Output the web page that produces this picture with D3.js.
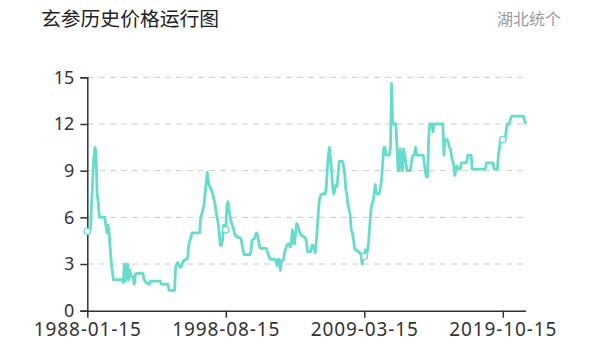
<!DOCTYPE html>
<html>
<head>
<meta charset="utf-8">
<script src="https://cdn.jsdelivr.net/npm/d3@7"></script>
<style>
  html, body { margin: 0; padding: 0; background: #fff; }
  svg { display: block; font-family: "Noto Sans CJK SC", "Noto Sans", sans-serif; }
</style>
</head>
<body>
<div id="chart"></div>
<script>
const WIDTH = 596
const HEIGHT = 361

const TITLE = '玄参历史价格运行图'
const SUBTITLE = '湖北统个'

// monthly prices, 1988-01 .. 2021-07
const prices = [
  5.1, 5.0, 5.2, 5.3, 7.0, 8.5, 9.8, 10.5, 10.2, 7.5,
  7.0, 6.0, 6.0, 6.0, 6.0, 6.0, 6.0, 5.5, 5.0, 5.5,
  5.0, 4.0, 3.1, 2.5, 2.0, 2.0, 2.0, 2.0, 2.0, 2.0,
  2.0, 2.0, 2.0, 1.8, 3.0, 1.9, 2.2, 3.0, 2.0, 2.6,
  2.2, 2.2, 2.2, 1.7, 2.3, 2.4, 2.4, 2.4, 2.4, 2.4,
  2.4, 2.4, 2.0, 1.9, 1.8, 1.8, 1.7, 1.7, 1.9, 1.9,
  1.9, 1.9, 1.9, 1.9, 1.9, 1.9, 1.9, 1.9, 1.7, 1.7,
  1.7, 1.7, 1.7, 1.7, 1.7, 1.3, 1.3, 1.3, 1.3, 1.3,
  1.3, 2.8, 3.0, 3.1, 2.9, 2.8, 2.8, 3.0, 3.2, 3.2,
  3.3, 3.3, 3.4, 4.2, 4.5, 4.7, 5.0, 5.0, 5.0, 5.0,
  5.0, 5.0, 5.0, 5.0, 6.0, 6.2, 6.5, 6.8, 7.5, 8.2,
  8.9, 8.3, 8.0, 7.9, 7.7, 7.5, 7.2, 6.9, 6.4, 6.0,
  5.6, 5.0, 4.2, 4.2, 4.5, 5.5, 5.3, 5.2, 6.8, 7.0,
  6.5, 6.0, 5.7, 5.5, 5.3, 5.0, 4.8, 4.8, 4.7, 4.7,
  4.7, 4.6, 4.2, 3.8, 3.6, 3.6, 3.6, 3.6, 3.6, 3.6,
  3.8, 4.5, 4.6, 4.6, 4.8, 5.0, 4.9, 4.5, 4.1, 4.0,
  4.0, 4.0, 4.0, 4.0, 4.0, 3.8, 3.6, 3.4, 3.3, 3.3,
  3.3, 3.3, 3.3, 3.2, 2.9, 3.3, 3.3, 2.6, 3.2, 3.2,
  3.3, 3.8, 4.0, 4.2, 4.3, 4.3, 4.1, 4.2, 5.2, 4.8,
  4.3, 5.0, 5.6, 5.5, 5.2, 5.0, 4.9, 4.8, 4.8, 4.7,
  4.7, 4.4, 3.8, 3.8, 3.8, 3.8, 4.2, 4.2, 4.0, 3.7,
  4.5, 5.4, 6.5, 7.2, 7.4, 7.5, 7.5, 7.5, 7.5, 7.8,
  9.0, 10.0, 10.5, 9.8, 9.0, 8.0, 7.5, 7.8, 8.1, 8.0,
  8.8, 9.6, 9.6, 9.6, 9.6, 9.3, 8.8, 7.8, 7.5, 6.8,
  6.5, 6.2, 5.2, 5.0, 4.6, 4.0, 3.9, 3.9, 3.8, 3.8,
  3.7, 3.6, 3.0, 3.4, 3.5, 3.9, 3.8, 3.8, 4.5, 5.5,
  6.4, 6.9, 7.0, 7.5, 8.1, 7.6, 7.5, 7.5, 7.6, 8.0,
  8.6, 9.6, 10.5, 10.5, 10.0, 10.0, 10.0, 10.0, 10.5, 14.6,
  12.0, 12.0, 12.0, 12.0, 10.5, 9.0, 9.0, 10.4, 9.5, 9.0,
  10.4, 10.0, 9.6, 9.0, 9.0, 9.0, 9.0, 9.4, 9.9, 10.0,
  10.0, 10.5, 10.0, 10.0, 10.0, 10.0, 10.0, 10.0, 10.0, 9.5,
  8.9, 8.6, 8.6, 11.0, 12.0, 12.0, 12.0, 11.5, 12.0, 12.0,
  12.0, 12.0, 12.0, 12.0, 12.0, 12.0, 12.0, 10.0, 11.0, 11.0,
  11.0, 10.8, 10.5, 10.4, 9.9, 9.6, 9.4, 8.7, 9.0, 9.3,
  9.1, 9.1, 9.1, 9.5, 9.5, 9.5, 9.5, 9.5, 9.6, 10.0,
  10.0, 10.0, 10.0, 9.1, 9.1, 9.1, 9.1, 9.1, 9.1, 9.1,
  9.1, 9.1, 9.1, 9.1, 9.1, 9.1, 9.5, 9.5, 9.5, 9.5,
  9.5, 9.5, 9.5, 9.1, 9.1, 9.1, 9.1, 10.0, 10.5, 11.0,
  11.0, 11.0, 11.0, 11.0, 11.5, 12.0, 12.0, 12.0, 12.3, 12.5,
  12.5, 12.5, 12.5, 12.5, 12.5, 12.5, 12.5, 12.5, 12.5, 12.5,
  12.5, 12.2, 12.0
]

// month labels (category axis), one per price
const dates = prices.map((_, i) => {
  const y = 1988 + Math.floor(i / 12)
  const m = (i % 12) + 1
  return `${y}-${String(m).padStart(2, '0')}-15`
})

const xTickLabels = ['1988-01-15', '1998-08-15', '2009-03-15', '2019-10-15']
const yTicks = [0, 3, 6, 9, 12, 15]

const LINE = '#66dccd'

const svg = d3.select('#chart').append('svg')
  .attr('width', WIDTH)
  .attr('height', HEIGHT)

svg.append('text')
  .attr('x', 41).attr('y', 26)
  .attr('fill', '#222')
  .style('font-size', '19.8px')
  .text(TITLE)

svg.append('text')
  .attr('x', 561).attr('y', 25)
  .attr('text-anchor', 'end')
  .attr('fill', '#999')
  .style('font-size', '16px')
  .text(SUBTITLE)

const x = d3.scalePoint().domain(dates).range([87.3, 525.7])
const y = d3.scaleLinear().domain([0, 15]).range([310.7, 77.3])

// grid
svg.append('g')
  .selectAll('line')
  .data(yTicks.filter(d => d > 0))
  .join('line')
  .attr('x1', 88).attr('x2', 526)
  .attr('y1', d => y(d)).attr('y2', d => y(d))
  .attr('stroke', '#ccc')
  .attr('stroke-width', 1)
  .attr('stroke-dasharray', '6,5')

const yAxis = svg.append('g')
  .attr('transform', `translate(${x(dates[0])},0)`)
  .call(d3.axisLeft(y).tickValues(yTicks).tickSize(7).tickPadding(6))
yAxis.select('.domain').attr('stroke', '#333').attr('stroke-width', 1.5)
yAxis.selectAll('.tick line').attr('stroke', '#333').attr('stroke-width', 1.5)
yAxis.selectAll('text').attr('fill', '#333').style('font-size', '18px')
  .style('font-family', '"Noto Sans", sans-serif')

const xAxis = svg.append('g')
  .attr('transform', `translate(0,${y(0)})`)
  .call(d3.axisBottom(x).tickValues(xTickLabels).tickSize(7).tickSizeOuter(0).tickPadding(5))
xAxis.select('.domain').attr('stroke', '#333').attr('stroke-width', 1.5)
xAxis.selectAll('.tick line').attr('stroke', '#333').attr('stroke-width', 1.5)
xAxis.selectAll('text').attr('fill', '#333').style('font-size', '19px')
  .style('font-family', '"Noto Sans", sans-serif')
  .style('letter-spacing', '0.9px')

const line = d3.line()
  .x((d, i) => x(dates[i]))
  .y(d => y(d))

svg.append('path')
  .datum(prices)
  .attr('d', line)
  .attr('fill', 'none')
  .attr('stroke', LINE)
  .attr('stroke-width', 2.8)
  .attr('stroke-linejoin', 'round')

svg.append('g')
  .selectAll('circle')
  .data(xTickLabels)
  .join('circle')
  .attr('cx', d => x(d))
  .attr('cy', d => y(prices[dates.indexOf(d)]))
  .attr('r', 3.2)
  .attr('fill', '#fff')
  .attr('stroke', LINE)
  .attr('stroke-width', 1.3)
</script>
</body>
</html>
